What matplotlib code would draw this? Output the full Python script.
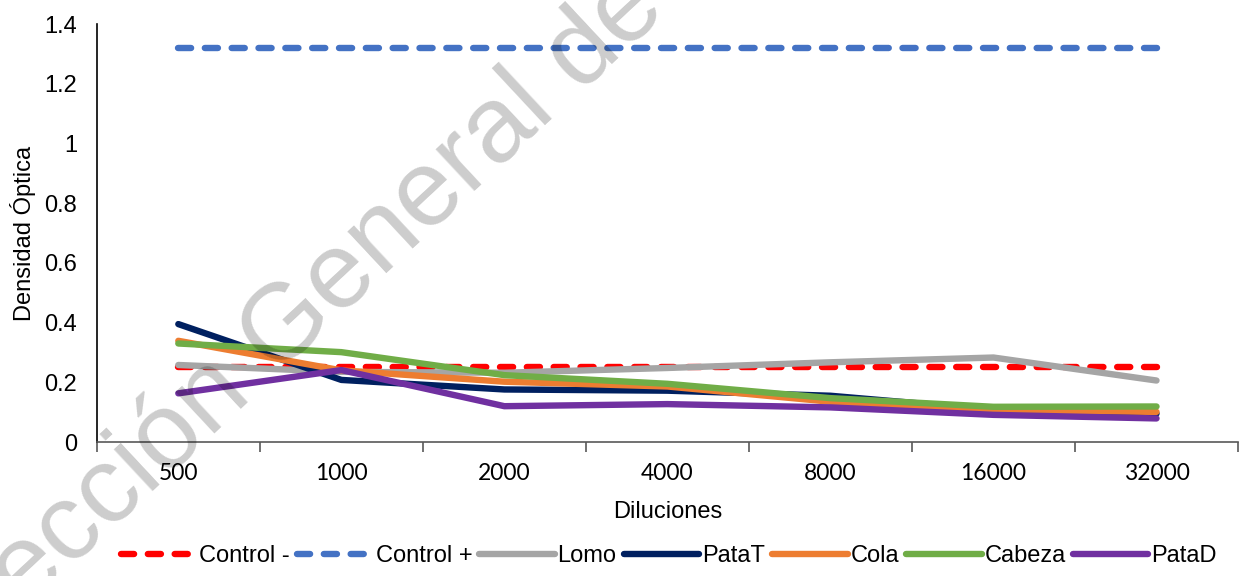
# Densidad óptica vs diluciones
import matplotlib
matplotlib.use('Agg')
import matplotlib.pyplot as plt
from matplotlib.ticker import FixedLocator, NullFormatter

plt.rcParams['font.family'] = ['Liberation Sans', 'DejaVu Sans']

# datos
diluciones = ['500', '1000', '2000', '4000', '8000', '16000', '32000']
control_neg = [0.25, 0.25, 0.25, 0.25, 0.25, 0.25, 0.25]
control_pos = [1.32, 1.32, 1.32, 1.32, 1.32, 1.32, 1.32]
lomo = [0.258, 0.235, 0.232, 0.248, 0.267, 0.283, 0.206]
pata_t = [0.395, 0.208, 0.176, 0.172, 0.155, 0.108, 0.095]
cola = [0.339, 0.240, 0.202, 0.186, 0.135, 0.107, 0.101]
cabeza = [0.330, 0.301, 0.224, 0.195, 0.147, 0.118, 0.119]
pata_d = [0.163, 0.241, 0.120, 0.127, 0.116, 0.091, 0.079]

x = list(range(len(diluciones)))

fig = plt.figure(figsize=(12.41, 5.76), dpi=100)
ax = fig.add_axes([0.078, 0.2326, 0.9196, 0.7257])

lw = 4.6
dash = dict(linestyle=(0, (2.05, 2.15)), dash_capstyle='round')
solid = dict(solid_capstyle='round', solid_joinstyle='round')

ax.plot(x, control_neg, color='#FF0000', lw=lw, label='Control -', **dash)
ax.plot(x, control_pos, color='#4472C4', lw=lw, label='Control +', **dash)
ax.plot(x, lomo, color='#A5A5A5', lw=lw, label='Lomo', **solid)
ax.plot(x, pata_t, color='#002060', lw=lw, label='PataT', **solid)
ax.plot(x, cola, color='#ED7D31', lw=lw, label='Cola', **solid)
ax.plot(x, cabeza, color='#70AD47', lw=lw, label='Cabeza', **solid)
ax.plot(x, pata_d, color='#7030A0', lw=lw, label='PataD', **solid)

ax.set_xlim(-0.5, len(x) - 0.5)
ax.set_ylim(0, 1.4)
ax.set_yticks([0, 0.2, 0.4, 0.6, 0.8, 1.0, 1.2, 1.4])
ax.set_yticklabels(['0', '0.2', '0.4', '0.6', '0.8', '1', '1.2', '1.4'])
ax.tick_params(axis='y', length=0, pad=14, labelsize=17)

ax.set_xticks(x)
ax.set_xticklabels(diluciones, family=['Lato', 'DejaVu Sans'])
ax.tick_params(axis='x', which='major', length=0, pad=15, labelsize=16.5)
ax.xaxis.set_minor_locator(FixedLocator([i - 0.5 for i in range(len(x) + 1)]))
ax.xaxis.set_minor_formatter(NullFormatter())
ax.tick_params(axis='x', which='minor', length=7, width=1.2, color='#595959', direction='out')

for s in ['top', 'right']:
    ax.spines[s].set_visible(False)
ax.spines['left'].set_color('black')
ax.spines['left'].set_linewidth(1.2)
ax.spines['bottom'].set_color('#595959')
ax.spines['bottom'].set_linewidth(1.2)

ax.set_xlabel('Diluciones', fontsize=17, labelpad=12)
ax.set_ylabel('Densidad Óptica', fontsize=17, labelpad=6)

fig.legend(loc='center', bbox_to_anchor=(0.539, 0.035), ncol=7, frameon=False,
           fontsize=17, handlelength=3.2, handletextpad=0.12, columnspacing=0.3)

# marca de agua
fig.text(558 / 1241, 1 - 114 / 576, 'Dirección General', fontsize=78, color='black',
         alpha=0.2, rotation=43, rotation_mode='anchor', ha='right', va='baseline')
fig.text(558 / 1241, 1 - 114 / 576, ' de Bibliotecas UAQ', fontsize=78, color='black',
         alpha=0.2, rotation=43, rotation_mode='anchor', ha='left', va='baseline')

fig.savefig('out.png', dpi=100)
